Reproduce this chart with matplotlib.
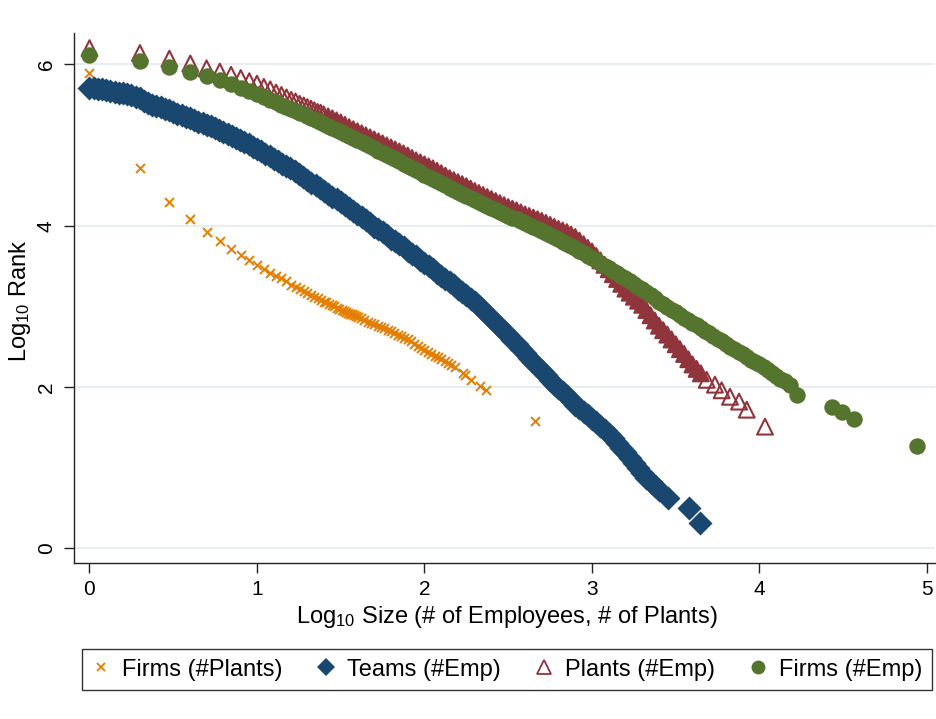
import numpy as np
import matplotlib
matplotlib.use("Agg")
import matplotlib.pyplot as plt
from matplotlib.lines import Line2D

plt.rcParams['font.family'] = ['Liberation Sans', 'DejaVu Sans']
plt.rcParams['mathtext.fontset'] = 'custom'
plt.rcParams['mathtext.rm'] = 'Liberation Sans'
plt.rcParams['mathtext.it'] = 'Liberation Sans:italic'
plt.rcParams['mathtext.bf'] = 'Liberation Sans:bold'

# ---------------- data (log10 size, log10 rank) ----------------
firms_plants_x = [0.000, 0.301, 0.477, 0.602, 0.699, 0.778, 0.845, 0.903, 0.954, 1.000,
                  1.041, 1.079, 1.114, 1.146, 1.176, 1.204, 1.230, 1.255, 1.279, 1.301,
                  1.322, 1.342, 1.362, 1.380, 1.398, 1.415, 1.431, 1.447, 1.462, 1.477,
                  1.491, 1.505, 1.519, 1.531, 1.544, 1.556, 1.568, 1.580, 1.591, 1.602,
                  1.62, 1.64, 1.66, 1.68, 1.70, 1.72, 1.74, 1.76, 1.78, 1.80,
                  1.82, 1.84, 1.86, 1.88, 1.90, 1.92, 1.94, 1.96, 1.98, 2.00,
                  2.02, 2.04, 2.06, 2.08, 2.10, 2.12, 2.14, 2.16, 2.18,
                  2.232, 2.242, 2.280, 2.330, 2.370, 2.660]
firms_plants_y = [5.89, 4.71, 4.29, 4.08, 3.92, 3.81, 3.71, 3.64, 3.57, 3.51,
                  3.46, 3.41, 3.38, 3.35, 3.31, 3.27, 3.24, 3.21, 3.19, 3.16,
                  3.14, 3.12, 3.10, 3.08, 3.06, 3.05, 3.03, 3.02, 3.00, 2.98,
                  2.97, 2.95, 2.94, 2.93, 2.92, 2.91, 2.90, 2.89, 2.88, 2.87,
                  2.85, 2.83, 2.81, 2.80, 2.78, 2.76, 2.745, 2.73, 2.71, 2.69,
                  2.67, 2.65, 2.63, 2.61, 2.59, 2.565, 2.54, 2.51, 2.48, 2.455,
                  2.43, 2.41, 2.39, 2.37, 2.345, 2.32, 2.30, 2.27, 2.25,
                  2.17, 2.15, 2.09, 2.01, 1.96, 1.58]

teams_x = [0.000, 0.025, 0.050, 0.075, 0.100, 0.125, 0.150, 0.175, 0.200, 0.225,
           0.250, 0.275, 0.300, 0.325, 0.350, 0.375, 0.400, 0.425, 0.450, 0.475,
           0.500, 0.525, 0.550, 0.575, 0.600, 0.625, 0.650, 0.675, 0.700, 0.725,
           0.750, 0.775, 0.800, 0.825, 0.850, 0.875, 0.900, 0.925, 0.950, 0.975,
           1.000, 1.025, 1.050, 1.075, 1.100, 1.125, 1.150, 1.175, 1.200, 1.225,
           1.250, 1.275, 1.300, 1.325, 1.350, 1.375, 1.400, 1.425, 1.450, 1.475,
           1.500, 1.525, 1.550, 1.575, 1.600, 1.625, 1.650, 1.675, 1.700, 1.725,
           1.750, 1.775, 1.800, 1.825, 1.850, 1.875, 1.900, 1.925, 1.950, 1.975,
           2.000, 2.025, 2.050, 2.075, 2.100, 2.125, 2.150, 2.175, 2.200, 2.225,
           2.250, 2.275, 2.300, 2.325, 2.350, 2.375, 2.400, 2.425, 2.450, 2.475,
           2.500, 2.525, 2.550, 2.575, 2.600, 2.625, 2.650, 2.675, 2.700, 2.725,
           2.750, 2.775, 2.800, 2.825, 2.850, 2.875, 2.900, 2.925, 2.950, 2.975,
           3.000, 3.025, 3.050, 3.075, 3.100, 3.125, 3.150, 3.175, 3.200, 3.225,
           3.250, 3.275, 3.300, 3.325, 3.350, 3.375, 3.400, 3.454, 3.579, 3.645]
teams_y = [5.71, 5.705, 5.70, 5.69, 5.68, 5.67, 5.66, 5.65, 5.64, 5.63,
           5.62, 5.60, 5.58, 5.55, 5.52, 5.50, 5.48, 5.465, 5.45, 5.43,
           5.41, 5.39, 5.37, 5.35, 5.33, 5.31, 5.29, 5.27, 5.25, 5.23,
           5.21, 5.185, 5.16, 5.135, 5.11, 5.085, 5.06, 5.035, 5.01, 4.98,
           4.95, 4.92, 4.89, 4.86, 4.83, 4.80, 4.77, 4.74, 4.71, 4.675,
           4.64, 4.605, 4.57, 4.535, 4.50, 4.465, 4.43, 4.395, 4.36, 4.325,
           4.29, 4.255, 4.22, 4.18, 4.14, 4.105, 4.07, 4.03, 3.99, 3.955,
           3.92, 3.88, 3.84, 3.805, 3.77, 3.73, 3.69, 3.655, 3.62, 3.58,
           3.54, 3.50, 3.46, 3.42, 3.38, 3.34, 3.30, 3.26, 3.22, 3.18,
           3.14, 3.095, 3.05, 3.00, 2.95, 2.90, 2.85, 2.80, 2.75, 2.695,
           2.64, 2.585, 2.53, 2.475, 2.42, 2.365, 2.31, 2.255, 2.20, 2.145,
           2.09, 2.04, 1.99, 1.94, 1.89, 1.835, 1.78, 1.735, 1.69, 1.65,
           1.61, 1.565, 1.52, 1.47, 1.42, 1.365, 1.31, 1.25, 1.19, 1.125,
           1.06, 0.995, 0.93, 0.875, 0.82, 0.77, 0.72, 0.626, 0.50, 0.316]

plants_x = [0.000, 0.301, 0.477, 0.602, 0.699, 0.778, 0.845, 0.903, 0.954, 1.000,
            1.041, 1.079, 1.114, 1.146, 1.176, 1.204, 1.230, 1.255, 1.279, 1.301,
            1.322, 1.342, 1.362, 1.380, 1.398, 1.425, 1.450, 1.475, 1.500, 1.525,
            1.550, 1.575, 1.600, 1.625, 1.650, 1.675, 1.700, 1.725, 1.750, 1.775,
            1.800, 1.825, 1.850, 1.875, 1.900, 1.925, 1.950, 1.975, 2.000, 2.025,
            2.050, 2.075, 2.100, 2.125, 2.150, 2.175, 2.200, 2.225, 2.250, 2.275,
            2.300, 2.325, 2.350, 2.375, 2.400, 2.425, 2.450, 2.475, 2.500, 2.525,
            2.550, 2.575, 2.600, 2.625, 2.650, 2.675, 2.700, 2.725, 2.750, 2.775,
            2.800, 2.825, 2.850, 2.875, 2.900, 2.925, 2.950, 2.975, 3.000, 3.025,
            3.050, 3.075, 3.100, 3.125, 3.150, 3.175, 3.200, 3.225, 3.250, 3.275,
            3.300, 3.325, 3.350, 3.375, 3.400, 3.425, 3.450, 3.475, 3.500, 3.525,
            3.550, 3.575, 3.600, 3.625, 3.650,
            3.685, 3.734, 3.774, 3.824, 3.878, 3.924, 4.033]
plants_y = [6.20, 6.14, 6.07, 6.01, 5.95, 5.91, 5.87, 5.83, 5.79, 5.76,
            5.72, 5.69, 5.65, 5.62, 5.59, 5.56, 5.54, 5.51, 5.49, 5.47,
            5.45, 5.43, 5.41, 5.40, 5.38, 5.355, 5.33, 5.305, 5.28, 5.25,
            5.22, 5.195, 5.17, 5.145, 5.12, 5.095, 5.07, 5.045, 5.02, 4.995,
            4.97, 4.945, 4.92, 4.895, 4.87, 4.84, 4.81, 4.785, 4.76, 4.735,
            4.71, 4.68, 4.65, 4.62, 4.59, 4.565, 4.54, 4.515, 4.49, 4.46,
            4.43, 4.405, 4.38, 4.355, 4.33, 4.305, 4.28, 4.255, 4.23, 4.21,
            4.19, 4.165, 4.14, 4.12, 4.10, 4.08, 4.06, 4.035, 4.01, 3.985,
            3.96, 3.94, 3.92, 3.89, 3.86, 3.815, 3.77, 3.725, 3.68, 3.625,
            3.57, 3.515, 3.46, 3.40, 3.34, 3.28, 3.22, 3.17, 3.12, 3.07,
            3.02, 2.955, 2.89, 2.825, 2.76, 2.705, 2.65, 2.59, 2.53, 2.47,
            2.41, 2.345, 2.28, 2.225, 2.17,
            2.09, 2.03, 1.96, 1.88, 1.82, 1.72, 1.51]

firms_emp_x = [0.000, 0.301, 0.477, 0.602, 0.699, 0.778, 0.845, 0.903, 0.954, 1.000,
               1.041, 1.079, 1.114, 1.146, 1.176, 1.204, 1.230, 1.255, 1.279, 1.301,
               1.325, 1.350, 1.375, 1.400, 1.425, 1.450, 1.475, 1.500, 1.525, 1.550,
               1.575, 1.600, 1.625, 1.650, 1.675, 1.700, 1.725, 1.750, 1.775, 1.800,
               1.825, 1.850, 1.875, 1.900, 1.925, 1.950, 1.975, 2.000, 2.025, 2.050,
               2.075, 2.100, 2.125, 2.150, 2.175, 2.200, 2.225, 2.250, 2.275, 2.300,
               2.325, 2.350, 2.375, 2.400, 2.425, 2.450, 2.475, 2.500, 2.525, 2.550,
               2.575, 2.600, 2.625, 2.650, 2.675, 2.700, 2.725, 2.750, 2.775, 2.800,
               2.825, 2.850, 2.875, 2.900, 2.925, 2.950, 2.975, 3.000, 3.025, 3.050,
               3.075, 3.100, 3.125, 3.150, 3.175, 3.200, 3.225, 3.250, 3.275, 3.300,
               3.325, 3.350, 3.375, 3.400, 3.425, 3.450, 3.475, 3.500, 3.525, 3.550,
               3.575, 3.600, 3.625, 3.650, 3.675, 3.700, 3.725, 3.750, 3.775, 3.800,
               3.825, 3.850, 3.875, 3.900, 3.925, 3.950, 3.975, 4.000, 4.025, 4.050,
               4.075, 4.100, 4.125, 4.150, 4.180, 4.227, 4.433, 4.490, 4.564, 4.942]
firms_emp_y = [6.12, 6.04, 5.97, 5.91, 5.85, 5.80, 5.76, 5.71, 5.67, 5.63,
               5.60, 5.56, 5.53, 5.50, 5.47, 5.45, 5.42, 5.40, 5.38, 5.36,
               5.335, 5.31, 5.285, 5.26, 5.235, 5.21, 5.185, 5.16, 5.135, 5.11,
               5.085, 5.06, 5.035, 5.01, 4.985, 4.96, 4.93, 4.90, 4.875, 4.85,
               4.825, 4.80, 4.77, 4.74, 4.715, 4.69, 4.66, 4.63, 4.605, 4.58,
               4.555, 4.53, 4.50, 4.47, 4.445, 4.42, 4.395, 4.37, 4.345, 4.32,
               4.295, 4.27, 4.245, 4.22, 4.195, 4.17, 4.145, 4.12, 4.10, 4.08,
               4.055, 4.03, 4.005, 3.98, 3.955, 3.93, 3.905, 3.88, 3.855, 3.83,
               3.80, 3.77, 3.745, 3.72, 3.69, 3.66, 3.63, 3.60, 3.57, 3.54,
               3.505, 3.47, 3.44, 3.41, 3.38, 3.35, 3.315, 3.28, 3.245, 3.21,
               3.175, 3.14, 3.10, 3.06, 3.025, 2.99, 2.96, 2.93, 2.895, 2.86,
               2.83, 2.80, 2.765, 2.73, 2.70, 2.67, 2.635, 2.60, 2.565, 2.53,
               2.50, 2.47, 2.44, 2.41, 2.375, 2.34, 2.31, 2.28, 2.245, 2.21,
               2.175, 2.14, 2.105, 2.07, 2.02, 1.90, 1.75, 1.69, 1.61, 1.27]

labels = ["Firms (#Plants)", "Teams (#Emp)", "Plants (#Emp)", "Firms (#Emp)"]
x_ticks = [0, 1, 2, 3, 4, 5]
y_ticks = [0, 2, 4, 6]

# ---------------- styling ----------------
c_orange = '#e37e00'
c_navy = '#1a476f'
c_maroon = '#90353b'
c_green = '#55752f'
grid_c = '#e6eef0'

W, H = 937, 719
fig = plt.figure(figsize=(W / 100, H / 100), dpi=100)
ax = fig.add_axes([74 / W, 1 - 563 / H, (935 - 74) / W, (563 - 33) / H])

ax.set_xlim(-0.0925, 5.048)
ax.set_ylim(-0.18, 6.388)

for y in y_ticks:
    ax.axhline(y, color=grid_c, lw=1.4, zorder=0)

ax.scatter(firms_plants_x, firms_plants_y, marker='x', s=42, color=c_orange,
           linewidths=1.4, zorder=2)
ax.scatter(teams_x, teams_y, marker='D', s=150, color=c_navy, linewidths=0, zorder=3)

px = np.array(plants_x)
filled = (px > 1.41) & (px < 3.66)
face = [c_maroon if f else 'none' for f in filled]
ax.scatter(plants_x, plants_y, marker='^', s=130, facecolors=face,
           edgecolors=c_maroon, linewidths=1.5, zorder=4)
ax.scatter(firms_emp_x, firms_emp_y, marker='o', s=140, color=c_green,
           linewidths=0, zorder=5)

ax.spines['top'].set_visible(False)
ax.spines['right'].set_visible(False)
for s in ('left', 'bottom'):
    ax.spines[s].set_linewidth(1.0)
    ax.spines[s].set_color('#222222')

ax.set_xticks(x_ticks)
ax.set_yticks(y_ticks)
ax.tick_params(axis='both', direction='out', length=7, width=1.0, color='#222222',
               labelsize=15)
ax.tick_params(axis='x', pad=5)
ax.tick_params(axis='y', pad=6)
for lab in ax.get_yticklabels():
    lab.set_rotation(90)
    lab.set_va('center')

ax.set_xlabel(r'Log$_{\mathregular{10}}$ Size (# of Employees, # of Plants)', fontsize=17)
ax.set_ylabel(r'Log$_{\mathregular{10}}$ Rank', fontsize=17)
ax.xaxis.set_label_coords(0.503, -0.077)
ax.yaxis.set_label_coords(-0.048, 0.495)

handles = [
    Line2D([], [], ls='none', marker='x', color=c_orange, markersize=5.5, mew=1.3),
    Line2D([], [], ls='none', marker='D', color=c_navy, markersize=9, mew=0),
    Line2D([], [], ls='none', marker='^', markerfacecolor='none', markeredgecolor=c_maroon,
           markersize=10, mew=1.3),
    Line2D([], [], ls='none', marker='o', color=c_green, markersize=10, mew=0),
]
leg = fig.legend(handles, labels, loc='lower left', ncol=4, mode='expand',
                 bbox_to_anchor=(82 / W, 1 - 690 / H, (932 - 82) / W, 47 / H),
                 fontsize=17, frameon=True, fancybox=False, edgecolor='black',
                 handlelength=0.8, handletextpad=0.5, borderpad=0.4, borderaxespad=0)
leg.get_frame().set_linewidth(1.0)

fig.savefig('out.png', dpi=100, facecolor='white')
